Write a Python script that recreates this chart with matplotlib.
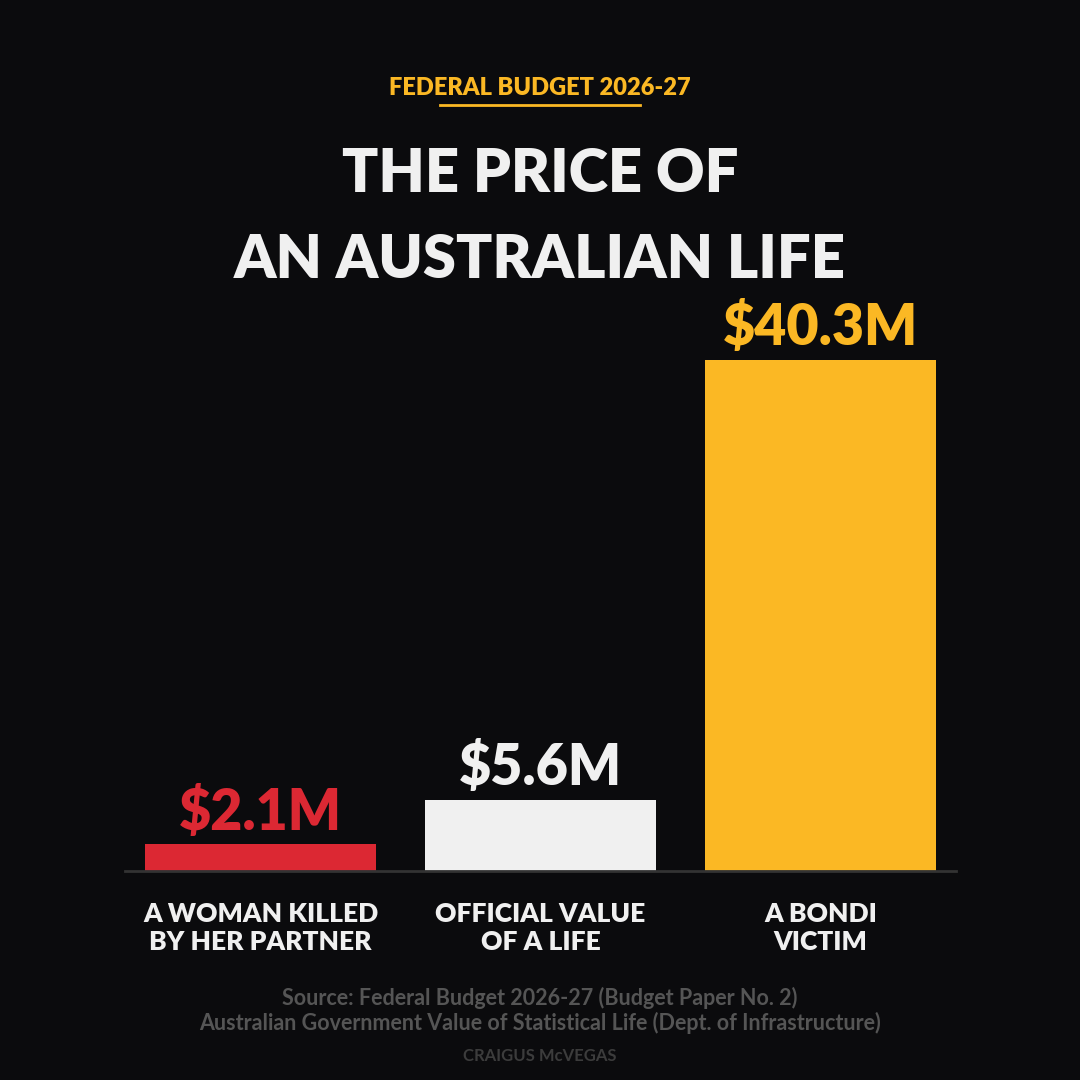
import matplotlib.pyplot as plt

# chart data
categories = ["A WOMAN KILLED\nBY HER PARTNER", "OFFICIAL VALUE\nOF A LIFE", "A BONDI\nVICTIM"]
values = [2.1, 5.6, 40.3]
value_labels = ["$2.1M", "$5.6M", "$40.3M"]
bar_colors = ["#DC2833", "#F0F0F0", "#FBB824"]

BG = "#0B0B0D"
FONT = ["Lato", "DejaVu Sans"]

fig = plt.figure(figsize=(10.8, 10.8), dpi=100, facecolor=BG)
ax = fig.add_axes([125 / 1080, 209 / 1080, 831 / 1080, 511 / 1080])
ax.set_facecolor(BG)

x = range(len(values))
ax.bar(x, values, width=0.825, color=bar_colors, zorder=2)
ax.set_xlim(-0.484, 2.484)
ax.set_ylim(0, 40.3)

for xi, v, lab, c in zip(x, values, value_labels, bar_colors):
    ax.annotate(lab, (xi, v), xytext=(0, 10.5), textcoords="offset points",
                ha="center", va="baseline", fontsize=40, fontweight="heavy",
                color=c, family=FONT, annotation_clip=False)
    ax.annotate(categories[xi], (xi, 0), xytext=(0, -22), textcoords="offset points",
                ha="center", va="top", fontsize=19, fontweight="heavy",
                color="#F0F0F0", family=FONT, linespacing=1.2,
                annotation_clip=False)

for s in ["top", "right", "left"]:
    ax.spines[s].set_visible(False)
ax.spines["bottom"].set_color("#333333")
ax.spines["bottom"].set_linewidth(2)
ax.set_xticks([])
ax.set_yticks([])

# header
fig.text(0.5, 1 - 88 / 1080, "FEDERAL BUDGET 2026-27", ha="center", va="center",
         fontsize=17, fontweight="heavy", color="#FBB824", family=FONT)
fig.add_artist(plt.Line2D([440 / 1080, 640 / 1080], [1 - 105 / 1080] * 2,
                          color="#FBB824", lw=2))
fig.text(0.5, 1 - 175 / 1080, "THE PRICE OF", ha="center", va="center",
         fontsize=43, fontweight="heavy", color="#F0F0F0", family=FONT)
fig.text(0.5, 1 - 261 / 1080, "AN AUSTRALIAN LIFE", ha="center", va="center",
         fontsize=43, fontweight="heavy", color="#F0F0F0", family=FONT)

# footer
fig.text(0.5, 1 - 998 / 1080, "Source: Federal Budget 2026-27 (Budget Paper No. 2)",
         ha="center", va="center", fontsize=15.5, fontweight="bold",
         color="#555555", family=FONT)
fig.text(0.5, 1 - 1023 / 1080,
         "Australian Government Value of Statistical Life (Dept. of Infrastructure)",
         ha="center", va="center", fontsize=15.5, fontweight="bold",
         color="#555555", family=FONT)
fig.text(0.5, 1 - 1056 / 1080, "CRAIGUS McVEGAS", ha="center", va="center",
         fontsize=12, fontweight="bold", color="#3C3C3C", family=FONT)

fig.savefig("out.png", dpi=100, facecolor=BG)
